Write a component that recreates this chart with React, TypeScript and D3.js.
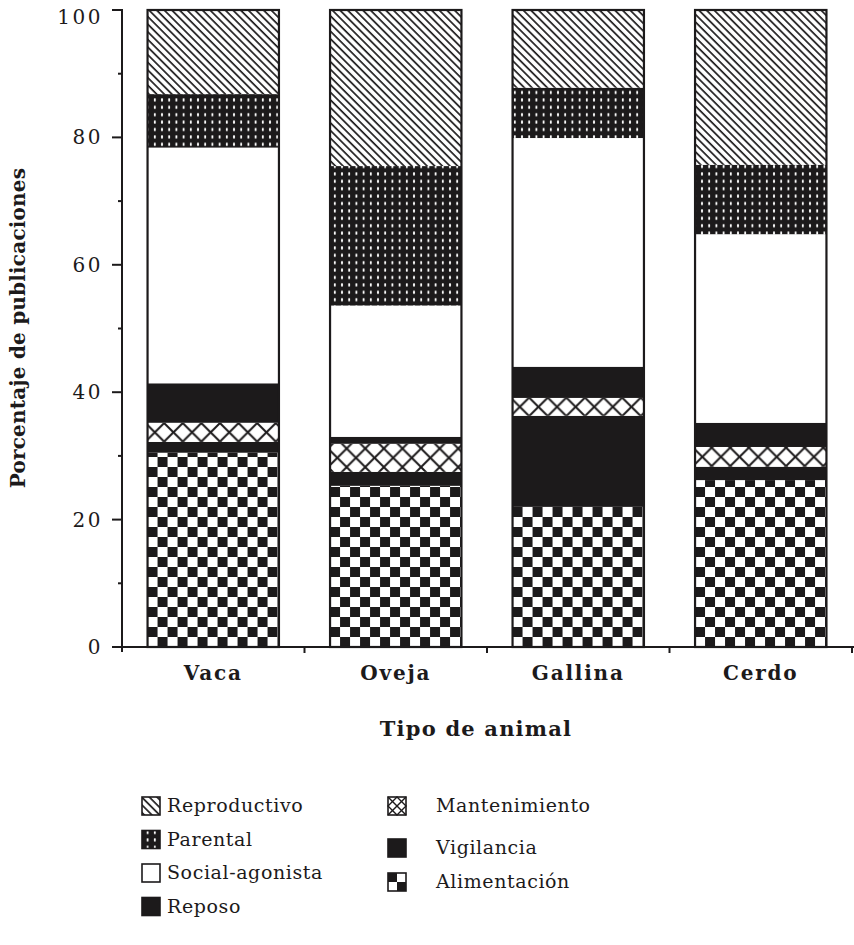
import React from 'react';
import * as d3 from 'd3';

const categories = ['Vaca', 'Oveja', 'Gallina', 'Cerdo'];
const alimentacion = [30.5, 25.3, 22.0, 26.2];
const vigilancia = [1.7, 2.2, 14.3, 2.1];
const mantenimiento = [3.0, 4.4, 2.8, 3.1];
const reposo = [6.2, 1.1, 4.9, 3.8];
const socialAgonista = [37.0, 20.6, 35.9, 29.6];
const parental = [8.4, 21.9, 7.9, 10.9];
const reproductivo = [13.2, 24.5, 12.2, 24.3];

const seriesKeys = ['Alimentación', 'Vigilancia', 'Mantenimiento', 'Reposo', 'Social-agonista', 'Parental', 'Reproductivo'];
const majorTicks = [0, 20, 40, 60, 80, 100];
const minorTicks = [10, 30, 50, 70, 90];
const legendCol1 = ['Reproductivo', 'Parental', 'Social-agonista', 'Reposo'];
const legendCol2 = ['Mantenimiento', 'Vigilancia', 'Alimentación'];
const xTitle = 'Tipo de animal';
const yTitle = 'Porcentaje de publicaciones';

const INK = '#1c1a1b';
const FONT = '"DejaVu Serif", "Liberation Serif", serif';

const rows = categories.map((c, i) => ({
  cat: c,
  'Alimentación': alimentacion[i],
  'Vigilancia': vigilancia[i],
  'Mantenimiento': mantenimiento[i],
  'Reposo': reposo[i],
  'Social-agonista': socialAgonista[i],
  'Parental': parental[i],
  'Reproductivo': reproductivo[i],
}));

export default function App() {
  const W = 854, H = 945;
  const x = d3.scaleBand().domain(categories).range([122, 852]).paddingInner(0.28).paddingOuter(0.14);
  const y = d3.scaleLinear().domain([0, 100]).range([647, 10]);
  const stacked = d3.stack().keys(seriesKeys)(rows as any);
  const bw = x.bandwidth();

  const fillFor = (key: string, i: number) => {
    switch (key) {
      case 'Alimentación': return `url(#checker-${i})`;
      case 'Vigilancia': return INK;
      case 'Mantenimiento': return `url(#mant-${i})`;
      case 'Reposo': return INK;
      case 'Social-agonista': return '#ffffff';
      case 'Parental': return 'url(#dots)';
      case 'Reproductivo': return 'url(#hatch)';
    }
    return 'none';
  };

  const boundaries = categories.map(c => (x(c) as number) + bw + (x.step() * x.paddingInner()) / 2);

  const legendFill = (key: string) => {
    switch (key) {
      case 'Reproductivo': return 'url(#hatch)';
      case 'Parental': return 'url(#dots)';
      case 'Social-agonista': return '#ffffff';
      case 'Reposo': return INK;
      case 'Vigilancia': return INK;
      default: return '#ffffff';
    }
  };

  const SW = 18;
  const legendItem = (key: string, sx: number, cy: number, tx: number) => {
    const sy = cy - SW / 2;
    return (
      <g key={key}>
        <rect x={sx} y={sy} width={SW} height={SW} fill={legendFill(key)} stroke={INK} strokeWidth={1.6} />
        {key === 'Mantenimiento' && (
          <g stroke={INK} strokeWidth={1.4} fill="none">
            <line x1={sx} y1={sy} x2={sx + SW} y2={sy + SW} />
            <line x1={sx + SW} y1={sy} x2={sx} y2={sy + SW} />
            <path d={`M${sx + SW / 2},${sy} L${sx + SW},${sy + SW / 2} L${sx + SW / 2},${sy + SW} L${sx},${sy + SW / 2} Z`} />
          </g>
        )}
        {key === 'Alimentación' && (
          <g fill={INK}>
            <rect x={sx} y={sy} width={SW / 2} height={SW / 2} />
            <rect x={sx + SW / 2} y={sy + SW / 2} width={SW / 2} height={SW / 2} />
          </g>
        )}
        <text x={tx} y={cy + 6} fontFamily={FONT} fontSize={19} letterSpacing={0.6} fill={INK}>{key}</text>
      </g>
    );
  };

  return (
    <svg width={W} height={H} style={{ position: 'absolute', left: 0, top: 0, background: '#fff', display: 'block' }}>
      <defs>
        <pattern id="hatch" patternUnits="userSpaceOnUse" width={5.4} height={5.4} patternTransform="rotate(-45)">
          <rect width={5.4} height={5.4} fill="#fff" />
          <line x1={1} y1={0} x2={1} y2={5.4} stroke={INK} strokeWidth={1.7} />
        </pattern>
        <pattern id="dots" patternUnits="userSpaceOnUse" width={7.2} height={7.4}>
          <rect width={7.2} height={7.4} fill={INK} />
          <ellipse cx={3.6} cy={3.7} rx={1.0} ry={1.9} fill="#fff" />
        </pattern>
        {categories.map((c, i) => {
          const s = stacked.find(k => k.key === 'Mantenimiento')![i];
          const cy = (y(s[0]) + y(s[1])) / 2;
          return (
            <pattern key={'m' + i} id={`mant-${i}`} patternUnits="userSpaceOnUse" width={18.6} height={18.6}
              x={(x(c) as number) - 2} y={cy - 9.3}>
              <rect width={18.6} height={18.6} fill="#fff" />
              <line x1={0} y1={0} x2={18.6} y2={18.6} stroke={INK} strokeWidth={2} />
              <line x1={18.6} y1={0} x2={0} y2={18.6} stroke={INK} strokeWidth={2} />
            </pattern>
          );
        })}
        {categories.map((c, i) => (
          <pattern key={'c' + i} id={`checker-${i}`} patternUnits="userSpaceOnUse" width={20} height={20}
            x={x(c) as number} y={647}>
            <rect width={20} height={20} fill="#fff" />
            <rect x={0} y={0} width={10} height={10} fill={INK} />
            <rect x={10} y={10} width={10} height={10} fill={INK} />
          </pattern>
        ))}
      </defs>

      {/* bars */}
      {stacked.map(layer => (
        <g key={layer.key}>
          {layer.map((d, i) => (
            <rect key={i} x={x(categories[i]) as number} y={y(d[1])} width={bw}
              height={Math.max(0, y(d[0]) - y(d[1]))} fill={fillFor(layer.key, i)} />
          ))}
        </g>
      ))}
      {categories.map(c => (
        <rect key={'o' + c} x={x(c) as number} y={y(100)} width={bw} height={y(0) - y(100)}
          fill="none" stroke={INK} strokeWidth={2.2} />
      ))}

      {/* y axis */}
      <line x1={122} y1={y(100) - 1} x2={122} y2={y(0) + 5} stroke={INK} strokeWidth={2} />
      {majorTicks.map(t => (
        <g key={'mt' + t}>
          <line x1={112} x2={122} y1={y(t)} y2={y(t)} stroke={INK} strokeWidth={2} />
          <text x={103} y={Math.max(y(t), 17) + 7} textAnchor="end" fontFamily={FONT} fontSize={20} letterSpacing={2.5} fill={INK}>{t}</text>
        </g>
      ))}
      {minorTicks.map(t => (
        <line key={'mn' + t} x1={118} x2={122} y1={y(t)} y2={y(t)} stroke={INK} strokeWidth={2} />
      ))}

      {/* x axis */}
      <line x1={112} y1={y(0)} x2={854} y2={y(0)} stroke={INK} strokeWidth={2} />
      {boundaries.map((b, i) => (
        <line key={'xb' + i} x1={b} x2={b} y1={y(0)} y2={y(0) + 6} stroke={INK} strokeWidth={2} />
      ))}
      {categories.map(c => (
        <text key={'xl' + c} x={(x(c) as number) + bw / 2} y={680} textAnchor="middle" fontFamily={FONT}
          fontWeight="bold" fontSize={20} letterSpacing={1.8} fill={INK}>{c}</text>
      ))}
      <text x={476} y={736} textAnchor="middle" fontFamily={FONT} fontWeight="bold" fontSize={21} letterSpacing={1.2} fill={INK}>{xTitle}</text>
      <text transform="translate(25,328) rotate(-90)" textAnchor="middle" fontFamily={FONT} fontWeight="bold" fontSize={20} letterSpacing={0.2} fill={INK}>{yTitle}</text>

      {/* legend */}
      {legendCol1.map((k, i) => legendItem(k, 142, 806 + i * 33.5, 167))}
      {legendCol2.map((k, i) => legendItem(k, 388, [806, 848, 882][i], 436))}
    </svg>
  );
}
